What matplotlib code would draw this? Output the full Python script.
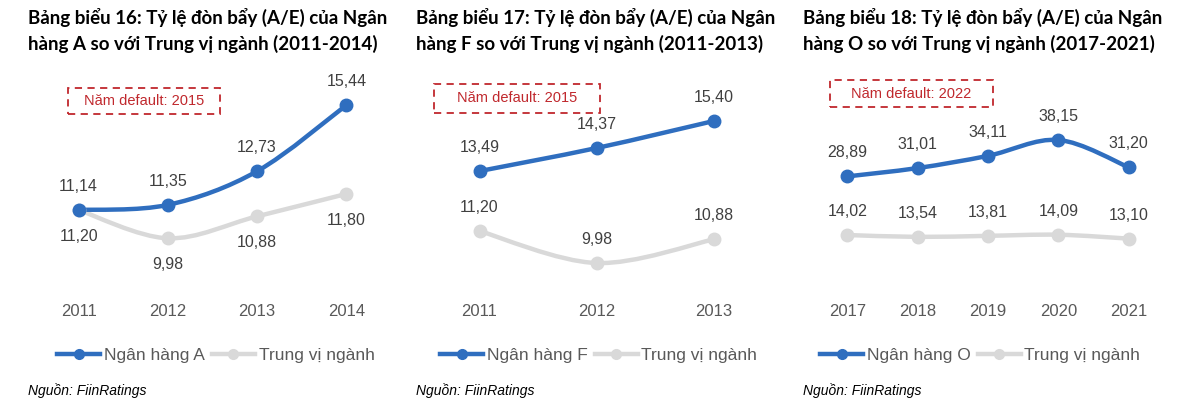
import matplotlib
matplotlib.use('Agg')
import matplotlib.pyplot as plt
from matplotlib.path import Path
from matplotlib.patches import PathPatch, Rectangle
from matplotlib.lines import Line2D
import numpy as np

# data
years_a = ['2011', '2012', '2013', '2014']
bank_a = [11.14, 11.35, 12.73, 15.44]
median_a = [11.14, 9.98, 10.88, 11.80]   # drawn position of median line
median_a_lbl = ['11,20', '9,98', '10,88', '11,80']

years_f = ['2011', '2012', '2013']
bank_f = [13.49, 14.37, 15.40]
median_f = [11.20, 9.98, 10.88]

years_o = ['2017', '2018', '2019', '2020', '2021']
bank_o = [28.89, 31.01, 34.11, 38.15, 31.20]
median_o = [14.02, 13.54, 13.81, 14.09, 13.10]

titles = ["Bảng biểu 16: Tỷ lệ đòn bẩy (A/E) của Ngân\nhàng A so với Trung vị ngành (2011-2014)",
          "Bảng biểu 17: Tỷ lệ đòn bẩy (A/E) của Ngân\nhàng F so với Trung vị ngành (2011-2013)",
          "Bảng biểu 18: Tỷ lệ đòn bẩy (A/E) của Ngân\nhàng O so với Trung vị ngành (2017-2021)"]
bank_names = ['Ngân hàng A', 'Ngân hàng F', 'Ngân hàng O']
default_years = ['2015', '2015', '2022']

BLUE = '#2F6EBF'
GREY = '#D9D9D9'
RED = '#C0282D'
W, H = 1200, 417

plt.rcParams['font.family'] = ['Liberation Sans', 'DejaVu Sans']
fig = plt.figure(figsize=(12, 4.17), dpi=100)


def fr(x, y):
    return x / W, 1 - y / H


def fmt(v):
    return ('%.2f' % v).replace('.', ',')


def smooth(ax, xs, ys, color):
    # excel-like smoothed line (catmull-rom as bezier)
    xs = np.asarray(xs, float)
    ys = np.asarray(ys, float)
    n = len(xs)
    verts = [(xs[0], ys[0])]
    codes = [Path.MOVETO]
    for i in range(n - 1):
        p0 = np.array([xs[max(i - 1, 0)], ys[max(i - 1, 0)]])
        p1 = np.array([xs[i], ys[i]])
        p2 = np.array([xs[i + 1], ys[i + 1]])
        p3 = np.array([xs[min(i + 2, n - 1)], ys[min(i + 2, n - 1)]])
        c1 = p1 + (p2 - p0) / 6
        c2 = p2 - (p3 - p1) / 6
        verts += [tuple(c1), tuple(c2), tuple(p2)]
        codes += [Path.CURVE4] * 3
    ax.add_patch(PathPatch(Path(verts, codes), fc='none', ec=color, lw=3.2,
                           capstyle='round', joinstyle='round', zorder=2))
    ax.plot(xs, ys, 'o', color=color, ms=9, zorder=3)


# panel layout in pixels: axes left, width, ylim
panels = [
    dict(x0=34, w=357, ylim=(7.86, 16.88), tx=28, box=(68, 88, 220, 114),
         leg=(57, 355)),
    dict(x0=421, w=351, ylim=(8.95, 17.35), tx=416, box=(434, 84, 600, 113),
         leg=(440, 355)),
    dict(x0=812, w=352, ylim=(0.06, 55.9), tx=803, box=(830, 80, 993, 107),
         leg=(820, 355)),
]
series = [
    (years_a, bank_a, median_a, median_a_lbl, 'below'),
    (years_f, bank_f, median_f, [fmt(v) for v in median_f], 'above'),
    (years_o, bank_o, median_o, [fmt(v) for v in median_o], 'above'),
]

for k, (p, s) in enumerate(zip(panels, series)):
    yrs, bank, med, med_lbl, pos = s
    l, b = fr(p['x0'], 290)
    ax = fig.add_axes([l, b, p['w'] / W, 220 / H])
    x = np.arange(len(yrs))
    smooth(ax, x, med, GREY)
    smooth(ax, x, bank, BLUE)
    ax.set_xlim(-0.5, len(yrs) - 0.5)
    ax.set_ylim(*p['ylim'])
    for xi, v in zip(x, bank):
        ax.annotate(fmt(v), (xi, v), xytext=(0, 17), textcoords='offset points',
                    ha='center', va='center', fontsize=11.5, color='#404040')
    for xi, v, t in zip(x, med, med_lbl):
        dy = -19 if pos == 'below' else 17
        ax.annotate(t, (xi, v), xytext=(0, dy), textcoords='offset points',
                    ha='center', va='center', fontsize=11.5, color='#404040')
    ax.set_xticks(x)
    ax.set_xticklabels(yrs, fontsize=12, color='#595959')
    ax.tick_params(axis='x', length=0, pad=10)
    ax.set_yticks([])
    for sp in ax.spines.values():
        sp.set_visible(False)

    # title
    fig.text(*fr(p['tx'], 8), titles[k], ha='left', va='top', fontsize=13.5,
             fontweight='bold', family=['Lato', 'DejaVu Sans'], color='#000000',
             linespacing=1.5)

    # default-year box
    bx0, by0, bx1, by1 = p['box']
    fig.add_artist(Rectangle(fr(bx0, by1), (bx1 - bx0) / W, (by1 - by0) / H,
                             transform=fig.transFigure, fc='none', ec=RED,
                             lw=1.3, ls=(0, (4, 3))))
    fig.text(*fr((bx0 + bx1) / 2, (by0 + by1) / 2), 'Năm default: ' + default_years[k],
             ha='center', va='center', fontsize=10.5, color=RED)

    # legend
    handles = [Line2D([], [], color=BLUE, lw=3.2, marker='o', ms=7),
               Line2D([], [], color=GREY, lw=3.2, marker='o', ms=7)]
    lx, ly = p['leg']
    fig.legend(handles, [bank_names[k], 'Trung vị ngành'], loc='center left',
               bbox_to_anchor=fr(lx, ly), ncol=2, frameon=False,
               fontsize=12.5, labelcolor='#595959', handlelength=2.5,
               handletextpad=0.2, columnspacing=0.4, borderpad=0, borderaxespad=0)

    fig.text(*fr(p['tx'], 391), 'Nguồn: FiinRatings', ha='left', va='center',
             fontsize=10, style='italic', color='#000000')

fig.savefig('out.png', dpi=100, facecolor='white')
